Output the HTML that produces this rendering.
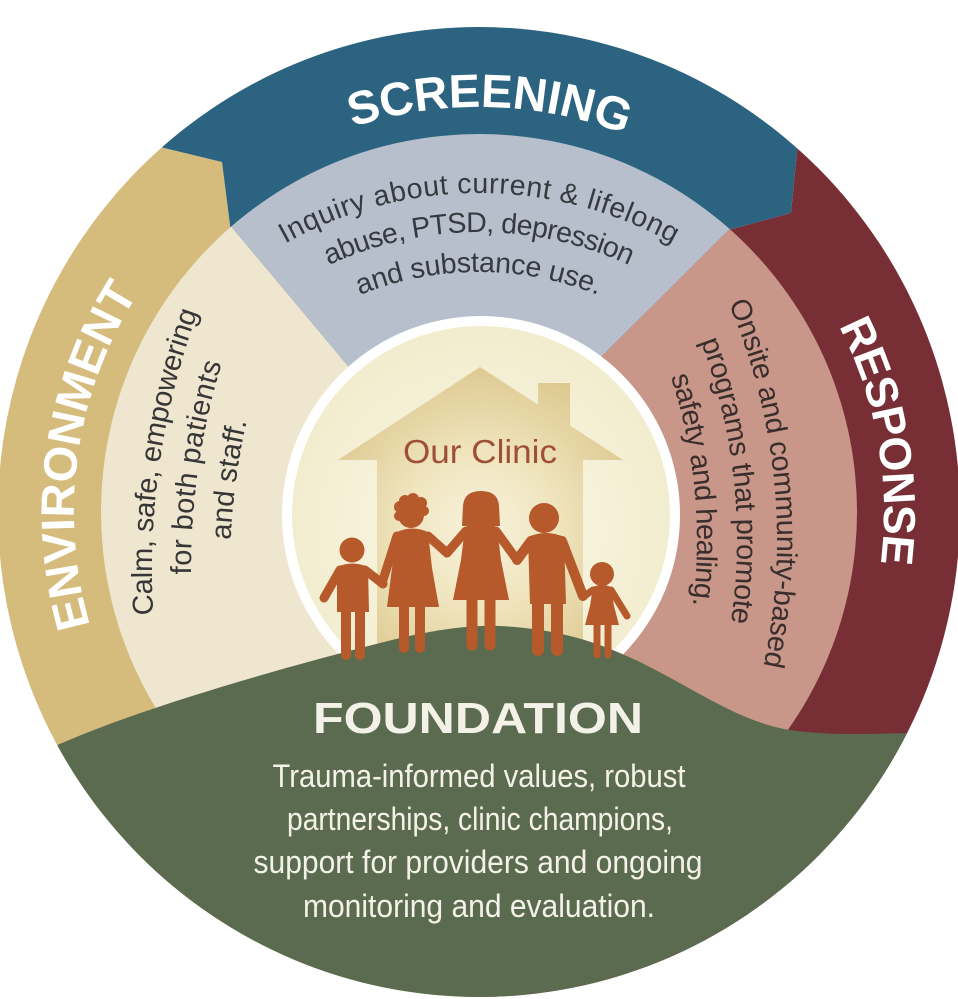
<!DOCTYPE html>
<html>
<head>
<meta charset="utf-8">
<style>
  html,body{margin:0;padding:0;background:#ffffff;}
  body{width:958px;height:999px;overflow:hidden;}
  svg{display:block;}
  .t{font-family:"Liberation Sans",Arial,sans-serif;}
</style>
</head>
<body>
<svg width="958" height="999" viewBox="0 0 958 999" xmlns="http://www.w3.org/2000/svg">
  <defs>
    <clipPath id="outer"><ellipse cx="479" cy="512" rx="481" ry="485"/></clipPath>
    <clipPath id="inner"><circle cx="479" cy="512" r="378"/></clipPath>
    <radialGradient id="cg" gradientUnits="userSpaceOnUse" cx="481" cy="530" r="190">
      <stop offset="0" stop-color="#fcf9ea"/>
      <stop offset="1" stop-color="#f2edcf"/>
    </radialGradient>
    <radialGradient id="hg" gradientUnits="userSpaceOnUse" cx="480" cy="530" r="175">
      <stop offset="0" stop-color="#f8f3dd"/>
      <stop offset="0.45" stop-color="#efe4bd"/>
      <stop offset="1" stop-color="#dcc78c"/>
    </radialGradient>

    <path id="pS" d="M133.7,300.4 A405,405 0 0 1 834.9,318.7"/>
    <path id="pE" d="M228.5,830.3 A405,405 0 0 1 328.6,136.0"/>
    <path id="pR" d="M617.5,131.4 A405,405 0 0 1 739.3,822.2"/>

    <path id="s1" d="M198.3,309.3 A397,397 0 0 1 759.7,309.3"/>
    <path id="s2" d="M225.9,336.9 A358,358 0 0 1 732.1,336.9"/>
    <path id="s3" d="M254.1,365.1 A318,318 0 0 1 703.9,365.1"/>

    <path id="e1" d="M206.4,850.2 A748,748 0 0 1 310.6,109.5"/>
    <path id="e2" d="M242.6,835.6 A709,709 0 0 1 341.3,133.5"/>
    <path id="e3" d="M278.8,821.0 A670,670 0 0 1 372.0,157.5"/>

    <path id="r1" d="M662.0,186.1 A602,602 0 0 1 724.9,784.8"/>
    <path id="r2" d="M629.7,209.7 A562,562 0 0 1 688.4,768.6"/>
    <path id="r3" d="M597.3,233.2 A522,522 0 0 1 651.8,752.3"/>
  </defs>

  <!-- outer band -->
  <g clip-path="url(#outer)">
    <polygon fill="#d5bc7d" points="98,132 222,162 238,288 479,512 479,999 0,999 0,132"/>
    <polygon fill="#2b6380" points="98,132 222,162 238,288 479,512 667,247 791,213 803,91 803,0 98,0"/>
    <polygon fill="#772e35" points="803,0 803,91 791,213 667,247 479,512 479,999 958,999 958,0"/>
  </g>

  <!-- inner light segments -->
  <g clip-path="url(#inner)">
    <polygon fill="#eee6cf" points="117,90 420,452 480,480 479,999 0,999 0,0 117,0"/>
    <polygon fill="#b7bfcc" points="117,90 420,452 480,480 544,414 852,107 852,0 117,0"/>
    <polygon fill="#c8978a" points="852,107 544,414 480,480 479,999 958,999 958,0 852,0"/>
  </g>

  <!-- center circle -->
  <circle cx="481" cy="515" r="199" fill="#ffffff"/>
  <circle cx="481" cy="515" r="189" fill="url(#cg)"/>

  <!-- house -->
  <g fill="url(#hg)">
    <rect x="538" y="383" width="32" height="55"/>
    <rect x="377" y="452" width="206" height="240"/>
    <path d="M338,460 L480,367 L623,460 Z"/>
  </g>
  <text class="t" x="480" y="463" text-anchor="middle" font-size="33" fill="#9f4f37" textLength="154" lengthAdjust="spacingAndGlyphs">Our Clinic</text>

  <!-- green hill -->
  <g clip-path="url(#outer)">
    <path fill="#5b6b4f" d="M0,772 L53,747 C140,708 280,668 400,638 C440,629 470,625 500,626 C560,629 600,643 640,662 C700,692 740,722 790,730 C840,737 880,733 958,732 L958,999 L0,999 Z"/>
  </g>

  <!-- family figures -->
  <g fill="#b65a2c" stroke="#b65a2c" stroke-linecap="round">
    <circle cx="352" cy="550" r="12.5" stroke="none"/>
    <path stroke="none" d="M337,567 Q352,560 368,567 L369,612 L337,612 Z"/>
    <line x1="340" y1="570" x2="324" y2="598" stroke-width="9"/>
    <line x1="365" y1="570" x2="383" y2="584" stroke-width="9"/>
    <line x1="346" y1="610" x2="346" y2="655" stroke-width="10"/>
    <line x1="360" y1="610" x2="360" y2="655" stroke-width="10"/>
    <g stroke="none">
      <circle cx="411" cy="515" r="13"/>
      <circle cx="400" cy="507" r="6"/>
      <circle cx="405" cy="501" r="6"/>
      <circle cx="413" cy="499" r="6"/>
      <circle cx="421" cy="503" r="6"/>
      <circle cx="424" cy="511" r="5"/>
      <circle cx="399" cy="516" r="5"/>
      <path d="M397,532 Q412,525 428,532 L432,568 L439,607 L387,607 L392,568 Z"/>
    </g>
    <line x1="397" y1="536" x2="382" y2="583" stroke-width="9"/>
    <line x1="428" y1="536" x2="447" y2="553" stroke-width="9"/>
    <line x1="404" y1="605" x2="404" y2="648" stroke-width="10"/>
    <line x1="420" y1="605" x2="420" y2="648" stroke-width="10"/>
    <g stroke="none">
      <path d="M462,526 L463,506 Q464,491 481,491 Q498,491 499,506 L500,526 Z"/>
      <circle cx="481" cy="508" r="15"/>
      <path d="M465,527 Q481,520 497,527 L501,560 L509,600 L453,600 L461,560 Z"/>
    </g>
    <line x1="466" y1="531" x2="447" y2="553" stroke-width="9"/>
    <line x1="496" y1="531" x2="517" y2="560" stroke-width="9"/>
    <line x1="472" y1="598" x2="472" y2="645" stroke-width="11"/>
    <line x1="490" y1="598" x2="490" y2="645" stroke-width="11"/>
    <g stroke="none">
      <circle cx="544" cy="518" r="15"/>
      <path d="M528,537 Q546,529 564,537 L566,604 L530,604 Z"/>
    </g>
    <line x1="531" y1="541" x2="517" y2="560" stroke-width="10"/>
    <line x1="562" y1="541" x2="583" y2="596" stroke-width="10"/>
    <line x1="538" y1="602" x2="538" y2="650" stroke-width="12"/>
    <line x1="557" y1="602" x2="557" y2="650" stroke-width="12"/>
    <g stroke="none">
      <circle cx="602" cy="574" r="12"/>
      <path d="M593,587 Q602,583 611,587 L614,606 L619,625 L585,625 L590,606 Z"/>
    </g>
    <line x1="593" y1="590" x2="583" y2="597" stroke-width="7"/>
    <line x1="611" y1="590" x2="627" y2="616" stroke-width="7"/>
    <line x1="597" y1="623" x2="597" y2="655" stroke-width="7"/>
    <line x1="608" y1="623" x2="608" y2="655" stroke-width="7"/>
  </g>

  <!-- titles -->
  <g class="t" font-weight="bold" fill="#ffffff" text-anchor="middle">
    <text font-size="47"><textPath href="#pS" startOffset="50%" textLength="278">SCREENING</textPath></text>
    <text font-size="47"><textPath href="#pE" startOffset="50%" textLength="346">ENVIRONMENT</textPath></text>
    <text font-size="45"><textPath href="#pR" startOffset="50%" textLength="245">RESPONSE</textPath></text>
  </g>

  <!-- screening description -->
  <g class="t" font-size="28.5" fill="#363a40" text-anchor="middle">
    <text><textPath href="#s1" startOffset="50%" textLength="405">Inquiry about current &amp; lifelong</textPath></text>
    <text><textPath href="#s2" startOffset="50%" textLength="310">abuse, PTSD, depression</textPath></text>
    <text><textPath href="#s3" startOffset="50%" textLength="244">and substance use.</textPath></text>
  </g>

  <!-- environment description -->
  <g class="t" font-size="29" fill="#363636" text-anchor="middle">
    <text><textPath href="#e1" startOffset="50.6%" textLength="308">Calm, safe, empowering</textPath></text>
    <text><textPath href="#e2" startOffset="50.5%" textLength="214">for both patients</textPath></text>
    <text><textPath href="#e3" startOffset="49.5%" textLength="120">and staff.</textPath></text>
  </g>

  <!-- response description -->
  <g class="t" font-size="29" fill="#3a2e2c" text-anchor="middle">
    <text><textPath href="#r1" startOffset="50.8%" textLength="370">Onsite and community-based</textPath></text>
    <text><textPath href="#r2" startOffset="49.8%" textLength="286">programs that promote</textPath></text>
    <text><textPath href="#r3" startOffset="50.8%" textLength="232">safety and healing.</textPath></text>
  </g>

  <!-- foundation -->
  <g class="t" fill="#f4f2e8" text-anchor="middle">
    <text x="478" y="733" font-size="44" font-weight="bold" textLength="330" lengthAdjust="spacingAndGlyphs">FOUNDATION</text>
    <text x="479" y="787" font-size="32" textLength="413" lengthAdjust="spacingAndGlyphs">Trauma-informed values, robust</text>
    <text x="480" y="830" font-size="32" textLength="386" lengthAdjust="spacingAndGlyphs">partnerships, clinic champions,</text>
    <text x="478" y="873" font-size="32" textLength="449" lengthAdjust="spacingAndGlyphs">support for providers and ongoing</text>
    <text x="479" y="917" font-size="32" textLength="352" lengthAdjust="spacingAndGlyphs">monitoring and evaluation.</text>
  </g>
</svg>
</body>
</html>
